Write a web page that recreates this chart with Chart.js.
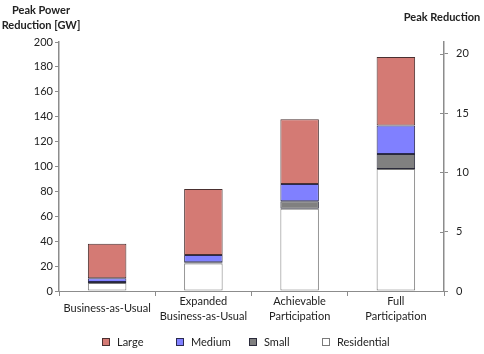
<!DOCTYPE html>
<html><head><meta charset="utf-8">
<script src="https://cdn.jsdelivr.net/npm/chart.js@4.4.0/dist/chart.umd.min.js"></script>
<style>html,body{margin:0;padding:0;background:#fff}#wrap{width:484px;height:354px}</style>
</head><body><div id="wrap"><canvas id="c" width="484" height="354"></canvas></div>
<script>
const categories = ["Business-as-Usual", ["Expanded", "Business-as-Usual"], ["Achievable", "Participation"], ["Full", "Participation"]];
const residential = [6.5, 22, 66, 98];
const small = [0.8, 1, 6, 12];
const medium = [3, 6, 14, 23];
const large = [27.7, 53, 52, 55];
const leftTickStep = 20;
const rightTicks = [0, 5, 10, 15, 20];
const leftTitle = ["Peak Power", "Reduction [GW]"];
const rightTitle = "Peak Reduction";
const legendOrder = ["Large", "Medium", "Small", "Residential"];

const FONT = "Lato";
const AXIS = "#8c8c8c";
const TXT = "#222";

const headerPlugin = {
  id: "header",
  afterDraw(chart) {
    const ctx = chart.ctx;
    ctx.save();
    ctx.fillStyle = TXT;
    ctx.font = "bold 11px " + FONT;
    ctx.textAlign = "center";
    ctx.textBaseline = "middle";
    ctx.fillText(leftTitle[0], 41, 10);
    ctx.fillText(leftTitle[1], 41, 25);
    ctx.fillText(rightTitle, 442, 17);
    // inward ticks on right axis
    const r = chart.scales.yR;
    ctx.strokeStyle = AXIS;
    ctx.lineWidth = 1;
    r.ticks.forEach(t => {
      const y = Math.round(r.getPixelForValue(t.value)) + 0.5;
      ctx.beginPath();
      ctx.moveTo(r.left - 4, y);
      ctx.lineTo(r.left, y);
      ctx.stroke();
    });
    // legend
    const slots = [102, 176, 249, 322];
    const ly = 342;
    ctx.font = "11px " + FONT;
    ctx.textAlign = "left";
    legendOrder.forEach((name, i) => {
      const d = chart.data.datasets.find(s => s.label === name);
      const x = slots[i];
      ctx.fillStyle = d.backgroundColor;
      ctx.fillRect(x, ly - 4, 8, 8);
      ctx.strokeStyle = d.borderColor;
      ctx.lineWidth = 1;
      ctx.strokeRect(x + 0.5, ly - 3.5, 7, 7);
      ctx.fillStyle = TXT;
      ctx.fillText(name, x + 15, ly);
    });
    ctx.restore();
  }
};

const ds = (label, data, bg, bc) => ({
  label, data, backgroundColor: bg, borderColor: bc, borderWidth: 1,
  borderSkipped: false, stack: "s", yAxisID: "y",
  barPercentage: 0.4, categoryPercentage: 1.0
});

new Chart(document.getElementById("c"), {
  type: "bar",
  data: {
    labels: categories,
    datasets: [
      ds("Residential", residential, "#ffffff", "#7a7a7a"),
      ds("Small", small, "#808080", "#2a2a3a"),
      ds("Medium", medium, "#8080ff", "#2a2a50"),
      ds("Large", large, "#d47a74", "#4a3030")
    ]
  },
  options: {
    responsive: false,
    animation: false,
    devicePixelRatio: 1,
    layout: { padding: { top: 42, left: 0, right: 0, bottom: 21 } },
    plugins: {
      tooltip: { enabled: false },
      legend: { display: false }
    },
    scales: {
      x: {
        stacked: true,
        offset: true,
        grid: { display: true, drawOnChartArea: false, offset: true, tickLength: 5, color: AXIS },
        border: { display: true, color: AXIS, width: 1 },
        ticks: { color: TXT, font: { family: FONT, size: 11, lineHeight: 1.36 }, crossAlign: "center", padding: 5, maxRotation: 0, autoSkip: false },
        afterFit(s) { s.height = 42; }
      },
      y: {
        stacked: true,
        position: "left",
        min: 0, max: 200,
        ticks: { stepSize: leftTickStep, color: TXT, font: { family: FONT, size: 11 }, padding: 2 },
        grid: { display: true, drawOnChartArea: false, tickLength: 4, color: AXIS },
        border: { display: true, color: AXIS, width: 1.5 },
        afterFit(s) { s.width = 59; }
      },
      yR: {
        position: "right",
        min: 0, max: 21,
        ticks: { color: TXT, font: { family: FONT, size: 11 }, padding: 8 },
        afterBuildTicks(a) { a.ticks = rightTicks.map(v => ({ value: v })); },
        grid: { display: true, drawOnChartArea: false, tickLength: 4, color: AXIS },
        border: { display: true, color: AXIS, width: 1.5 },
        afterFit(s) { s.width = 40; }
      }
    }
  },
  plugins: [headerPlugin]
});
</script></body></html>
